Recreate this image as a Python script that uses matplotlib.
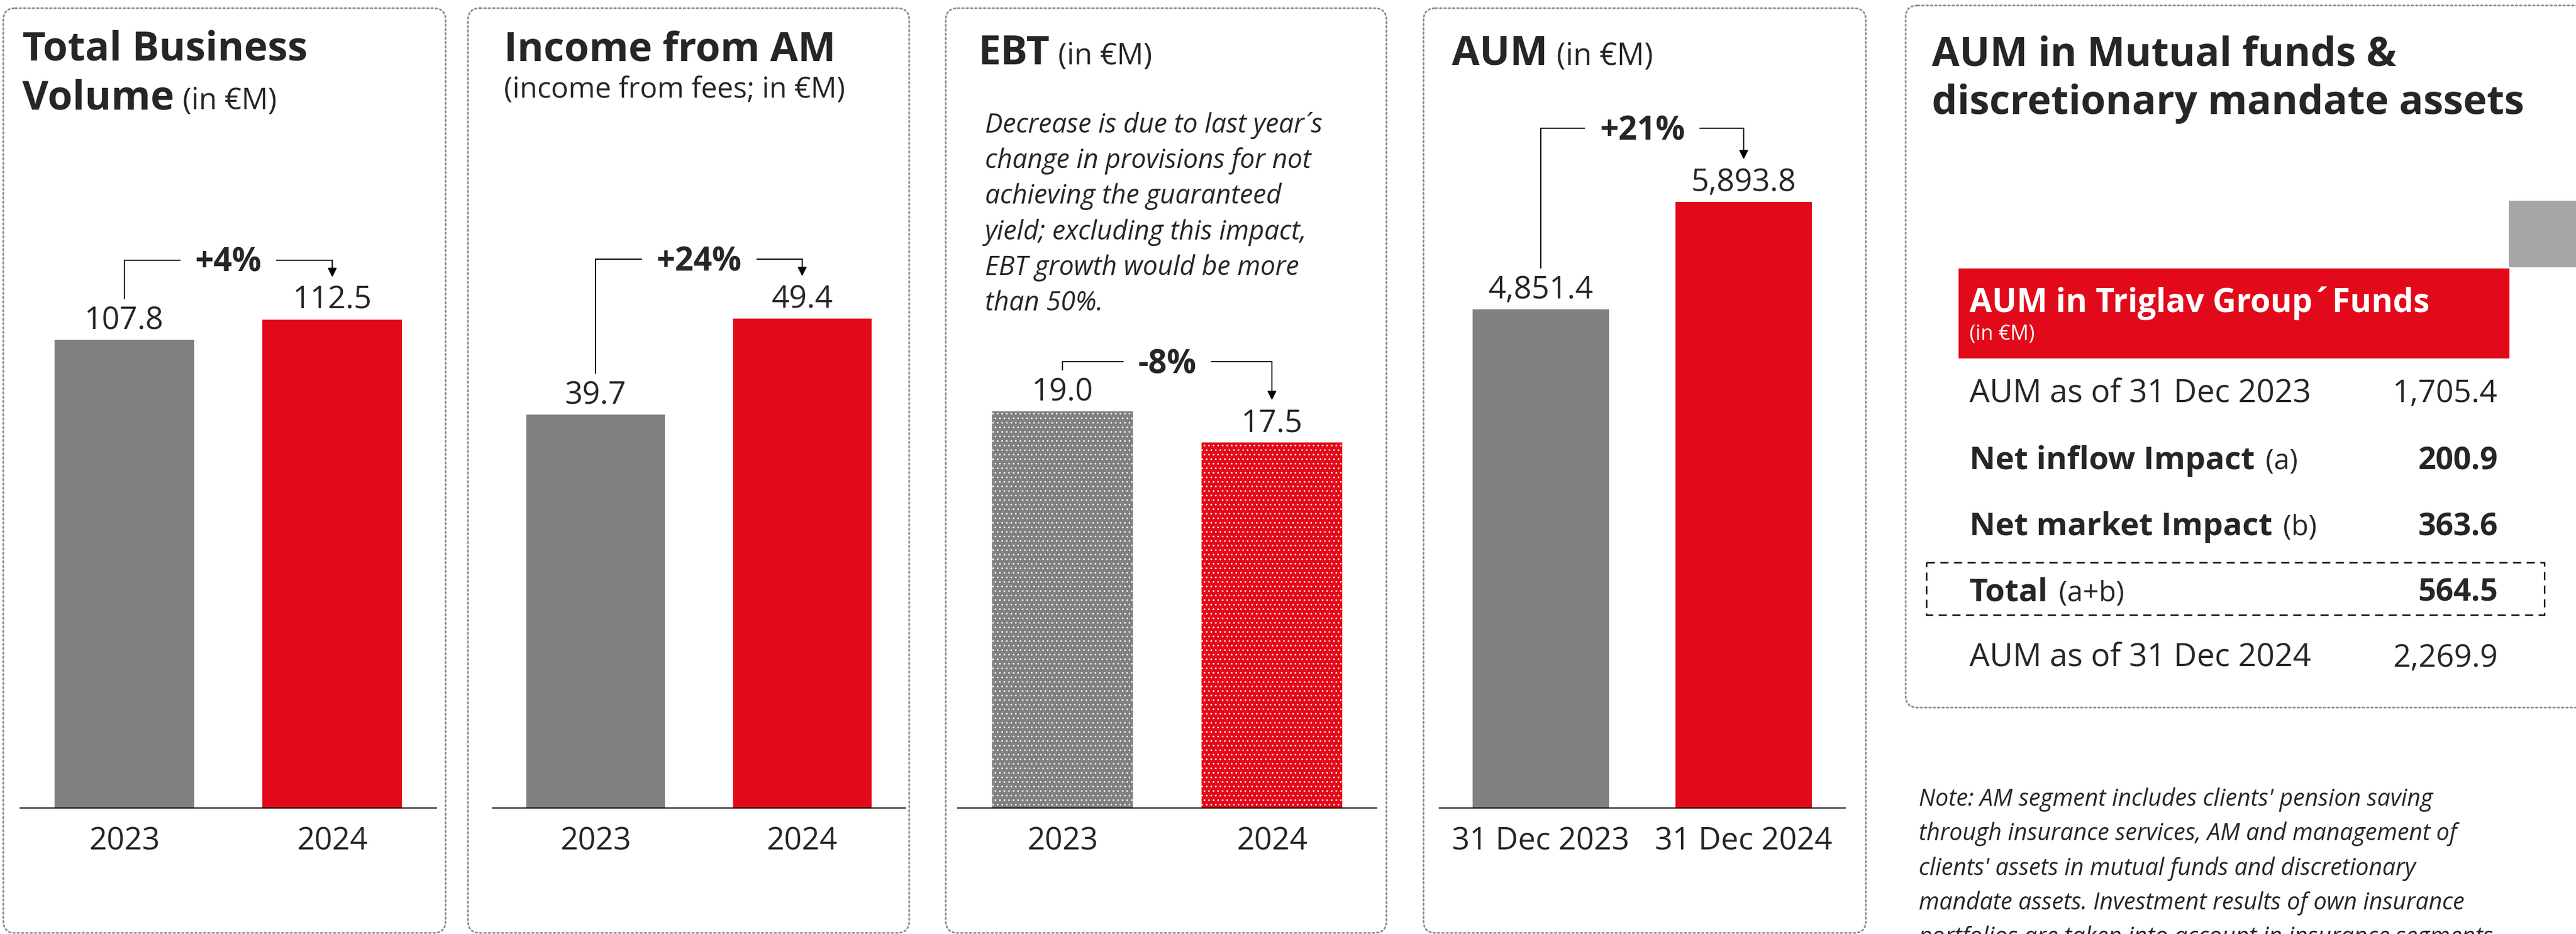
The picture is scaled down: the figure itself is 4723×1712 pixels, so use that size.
import matplotlib
matplotlib.use('Agg')
import matplotlib.pyplot as plt
from matplotlib.patches import FancyBboxPatch, Rectangle

plt.rcParams['font.family'] = ['Open Sans', 'DejaVu Sans']

W, H = 4723, 1712
DARK = '#262626'
GREY = '#808080'
RED = '#E20A1A'

# values
years = ['2023', '2024']
dates = ['31 Dec 2023', '31 Dec 2024']
business_volume = [107.8, 112.5]
income_am = [39.7, 49.4]
ebt = [19.0, 17.5]
aum = [4851.4, 5893.8]
changes = ['+4%', '+24%', '-8%', '+21%']

ebt_note = ["Decrease is due to last year\u00b4s",
            "change in provisions for not",
            "achieving the guaranteed",
            "yield; excluding this impact,",
            "EBT growth would be more",
            "than 50%."]

table_labels = ['AUM as of 31 Dec 2023', 'Net inflow Impact', 'Net market Impact',
                'Total', 'AUM as of 31 Dec 2024']
table_notes = ['', '(a)', '(b)', '(a+b)', '']
table_bold = [False, True, True, True, False]
table_values = [1705.4, 200.9, 363.6, 564.5, 2269.9]

footnote = ["Note: AM segment includes clients' pension saving",
            "through insurance services, AM and management of",
            "clients' assets in mutual funds and discretionary",
            "mandate assets. Investment results of own insurance",
            "portfolios are taken into account in insurance segments"]

fig = plt.figure(figsize=(W / 100, H / 100), dpi=100)
bg = fig.add_axes([0, 0, 1, 1])
bg.set_xlim(0, W)
bg.set_ylim(H, 0)
bg.axis('off')
renderer = fig.canvas.get_renderer()


def dotted_box(x0, y0, x1, y1):
    bg.add_patch(FancyBboxPatch((x0, y0), x1 - x0, y1 - y0,
                                boxstyle='round,pad=0,rounding_size=22',
                                fc='none', ec='#8c8c8c', lw=2.2,
                                ls=(0, (1, 1.6)), capstyle='round'))


def text_run(x, y, parts, gap=16, color=DARK):
    # parts: list of (text, size, weight, style) drawn one after another on a baseline
    for s, size, weight, style in parts:
        t = bg.text(x, y, s, fontsize=size, fontweight=weight, fontstyle=style,
                    color=color, va='baseline', ha='left')
        bb = t.get_window_extent(renderer)
        x += bb.width + gap


# panel frames
dotted_box(6, 15, 817, 1710)
dotted_box(858, 15, 1667, 1710)
dotted_box(1734, 15, 2542, 1710)
dotted_box(2610, 15, 3421, 1710)
dotted_box(3494, 10, 4780, 1297)

# titles
text_run(41, 110, [('Total Business', 53, 'bold', 'normal')])
text_run(41, 200, [('Volume', 53, 'bold', 'normal'), ('(in \u20acM)', 39, 'normal', 'normal')])
text_run(924, 111, [('Income from AM', 53, 'bold', 'normal')])
text_run(924, 179, [('(income from fees; in \u20acM)', 38, 'normal', 'normal')])
text_run(1793, 118, [('EBT', 53, 'bold', 'normal'), ('(in \u20acM)', 39, 'normal', 'normal')])
text_run(2662, 118, [('AUM', 53, 'bold', 'normal'), ('(in \u20acM)', 40, 'normal', 'normal')])
text_run(3542, 120, [('AUM in Mutual funds &', 53, 'bold', 'normal')])
text_run(3542, 209, [('discretionary mandate assets', 53, 'bold', 'normal')])

for i, line in enumerate(ebt_note):
    bg.text(1806, 243 + i * 65.2, line, fontsize=35, fontstyle='italic',
            color=DARK, va='baseline')

# bar panels: (values, labels, axis x-range, full scale, bracket gap, hatched)
panels = [
    (business_volume, years, (37, 800), 139.65, 48, False),
    (income_am, years, (903, 1660), 61.2, 48, False),
    (ebt, years, (1756, 2524), 29.04, 30, True),
    (aum, dates, (2639, 3383), 5894.0, 74, False),
]
base_y, axis_h = 1481, 1111

for k, (vals, labels, (x0, x1), ymax, gap, hatched) in enumerate(panels):
    ax = fig.add_axes([x0 / W, (H - base_y) / H, (x1 - x0) / W, axis_h / H])
    ax.patch.set_visible(False)
    ax.set_xlim(-0.5, 1.5)
    ax.set_ylim(0, ymax)
    if hatched:
        ax.bar([0, 1], vals, width=0.67, color=[GREY, RED], edgecolor='white',
               lw=0, hatch='..')
    else:
        ax.bar([0, 1], vals, width=0.67, color=[GREY, RED], lw=0)
    for sp in ['top', 'left', 'right']:
        ax.spines[sp].set_visible(False)
    ax.spines['bottom'].set_linewidth(1.7)
    ax.spines['bottom'].set_color('black')
    ax.set_yticks([])
    ax.set_xticks([0, 1], labels, fontsize=41, color=DARK)
    ax.tick_params(axis='x', length=0, pad=24)
    for i, v in enumerate(vals):
        ax.annotate(f'{v:,.1f}', (i, v), xytext=(0, 14.4), textcoords='offset points',
                    ha='center', va='baseline', fontsize=41, color=DARK)

    # change bracket from the first bar to the second
    tops = []
    for i, v in enumerate(vals):
        px, py = ax.transData.transform((i, v))
        tops.append((px, H - py - 20 - 41))
    (gx, gtop), (rx, rtop) = tops
    yl = min(gtop, rtop) - gap
    bg.plot([gx, gx, rx], [gtop - 15, yl, yl], color='black', lw=1.5,
            solid_joinstyle='miter')
    bg.annotate('', xy=(rx, rtop - 17), xytext=(rx, yl),
                arrowprops=dict(arrowstyle='-|>', color='black', lw=1.5,
                                mutation_scale=25, shrinkA=0, shrinkB=0))
    bg.text((gx + rx) / 2, yl + 21, changes[k], fontsize=43, fontweight='bold',
            color=DARK, ha='center', va='baseline',
            bbox=dict(boxstyle='square,pad=0.45', fc='white', ec='none'))

# AUM funds table
bg.add_patch(Rectangle((4600, 368), 140, 122, fc='#A6A6A6', ec='none'))
bg.add_patch(Rectangle((3591, 492), 1010, 165, fc=RED, ec='none'))
bg.text(3611, 572, 'AUM in Triglav Group\u00b4Funds', fontsize=43, fontweight='bold',
        color='white', va='baseline')
bg.text(3611, 622, '(in \u20acM)', fontsize=27, color='white', va='baseline')

row_y = [737, 860, 981, 1102, 1222]
for y, lab, note, bold, val in zip(row_y, table_labels, table_notes, table_bold, table_values):
    w = 'bold' if bold else 'normal'
    parts = [(lab, 42, w, 'normal')]
    if note:
        parts.append((note, 37, 'normal', 'normal'))
    text_run(3611, y, parts, gap=20)
    bg.text(4580, y, f'{val:,.1f}', fontsize=41, fontweight=w, color=DARK,
            ha='right', va='baseline')

bg.add_patch(Rectangle((3532, 1031), 1133, 96, fc='none', ec='black', lw=1.8,
                       ls=(0, (6, 4))))

for i, line in enumerate(footnote):
    bg.text(3518, 1477 + i * 63.3, line, fontsize=31, fontstyle='italic',
            color=DARK, va='baseline')

fig.savefig('out.png', dpi=100)
